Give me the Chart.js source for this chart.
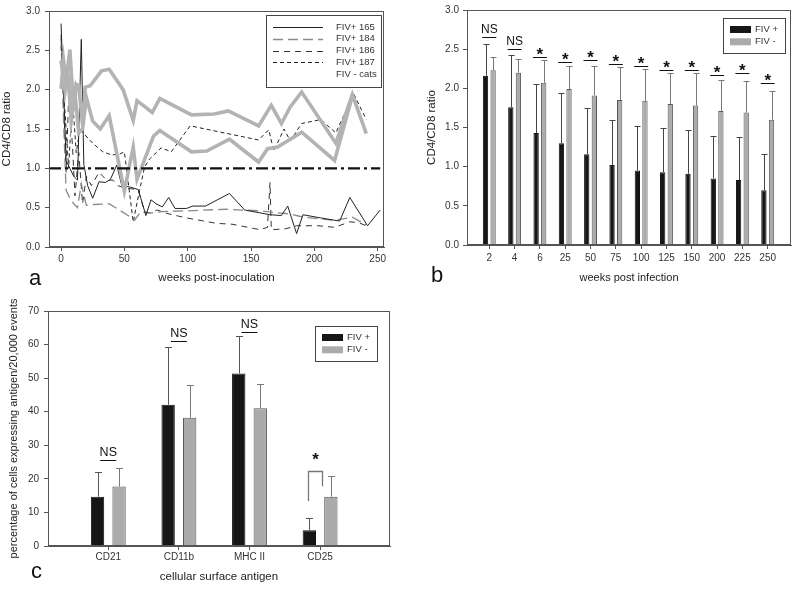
<!DOCTYPE html>
<html><head><meta charset="utf-8">
<script src="https://cdn.jsdelivr.net/npm/chart.js@4/dist/chart.umd.min.js"></script>
<style>
html,body{margin:0;padding:0;background:#fff;}
body{width:800px;height:590px;position:relative;overflow:hidden;}
canvas{position:absolute;}
#ca{left:0;top:0;} #cb{left:400px;top:0;} #cc{left:0;top:295px;}
</style></head><body>
<canvas id="ca" width="400" height="295"></canvas>
<canvas id="cb" width="400" height="295"></canvas>
<canvas id="cc" width="420" height="295"></canvas>
<script>
// ---------- Panel a data (weeks post-inoculation, CD4/CD8 ratio) ----------
const w165 = [0, 2, 4, 7, 10, 13, 16, 18, 21, 25, 30, 35, 39, 44, 48, 55, 61, 67, 71, 75, 80, 85, 90, 99, 104, 114, 133, 145, 165, 174, 179, 186, 191, 205, 216, 220, 228, 242, 252];
const r165 = [2.84, 2.0, 1.1, 1.0, 0.9, 0.85, 2.64, 1.05, 0.78, 0.62, 0.83, 0.82, 0.86, 1.04, 0.78, 0.76, 0.73, 0.40, 0.60, 0.55, 0.51, 0.63, 0.49, 0.49, 0.52, 0.52, 0.68, 0.47, 0.41, 0.40, 0.52, 0.17, 0.41, 0.37, 0.34, 0.33, 0.63, 0.27, 0.47];
const w184 = [0, 2, 4, 7, 10, 13, 16, 20, 26, 38, 46, 55, 58, 63, 68, 80, 100, 130, 157, 167, 181, 191, 216, 230, 241];
const r184 = [2.65, 1.6, 0.72, 0.62, 0.55, 0.50, 0.80, 0.53, 0.54, 0.55, 0.47, 0.38, 0.34, 0.45, 0.43, 0.45, 0.46, 0.48, 0.46, 0.44, 0.42, 0.38, 0.34, 0.38, 0.28];
const w186 = [0, 2, 4, 6, 9, 11, 14, 17, 20, 24, 30, 36, 41, 45, 50, 56, 61, 66, 70, 76, 83, 88, 99, 123, 135, 157, 163, 165, 166, 177, 186, 203, 216, 228, 235, 241];
const r186 = [2.7, 1.9, 0.95, 1.9, 1.3, 0.65, 1.2, 0.55, 0.9, 0.78, 0.95, 0.85, 0.85, 0.78, 0.75, 0.74, 0.72, 0.45, 0.43, 0.47, 0.43, 0.41, 0.37, 0.30, 0.29, 0.22, 0.25, 0.82, 0.22, 0.23, 0.27, 0.27, 0.25, 0.32, 0.31, 0.27];
const w187 = [0, 2, 4, 6, 9, 12, 15, 18, 25, 33, 40, 46, 50, 57, 62, 66, 70, 79, 87, 102, 156, 164, 168, 176, 181, 190, 205, 217, 231, 241];
const r187 = [2.55, 2.0, 1.5, 1.0, 1.9, 1.2, 1.5, 1.44, 1.32, 1.21, 1.17, 1.18, 1.21, 0.32, 0.72, 1.02, 1.12, 1.26, 1.21, 1.54, 1.36, 1.49, 1.22, 1.50, 1.35, 1.57, 1.62, 1.45, 1.95, 1.62];
const wNegA = [0, 2, 4, 7, 10, 12, 14, 17, 19, 23, 32, 38, 49, 57, 60, 72, 78, 103, 121, 132, 156, 166, 174, 181, 190, 217, 230, 241];
const rNegA = [2.01, 2.37, 2.1, 2.51, 1.73, 2.07, 2.05, 1.55, 2.03, 2.05, 2.24, 2.26, 2.0, 1.61, 1.86, 1.71, 1.89, 1.68, 1.69, 1.73, 1.54, 1.80, 1.57, 1.78, 1.97, 1.32, 1.94, 1.44];
const wNegB = [0, 3, 5, 8, 11, 14, 17, 20, 25, 31, 38, 50, 57, 60, 73, 78, 103, 115, 133, 156, 163, 171, 190, 216, 230];
const rNegB = [2.37, 2.0, 2.3, 1.6, 1.95, 1.45, 1.5, 1.9, 1.6, 1.5, 1.67, 0.71, 1.27, 0.86, 1.41, 1.48, 1.21, 1.22, 1.37, 1.08, 1.25, 1.27, 1.46, 1.10, 1.92];
const refWeeks = [-9.5, 252];
const refRatio = [1.0, 1.0];
const aXTicks = [0, 50, 100, 150, 200, 250];

// ---------- Panel b data ----------
const bWeeks = ['2', '4', '6', '25', '50', '75', '100', '125', '150', '200', '225', '250'];
const bPosMean = [2.16, 1.76, 1.43, 1.30, 1.16, 1.02, 0.95, 0.93, 0.91, 0.85, 0.83, 0.70];
const bPosUpper = [2.57, 2.42, 2.06, 1.94, 1.75, 1.60, 1.52, 1.49, 1.47, 1.39, 1.38, 1.16];
const bNegMean = [2.23, 2.20, 2.07, 1.99, 1.91, 1.85, 1.84, 1.80, 1.78, 1.71, 1.69, 1.60];
const bNegUpper = [2.40, 2.38, 2.36, 2.28, 2.29, 2.27, 2.25, 2.20, 2.19, 2.11, 2.09, 1.96];
const bSigY = [2.65, 2.50, 2.40, 2.34, 2.36, 2.31, 2.29, 2.24, 2.24, 2.17, 2.19, 2.07];
const bSigText = ['NS', 'NS', '*', '*', '*', '*', '*', '*', '*', '*', '*', '*'];

// ---------- Panel c data ----------
const cAntigens = ['CD21', 'CD11b', 'MHC II', 'CD25'];
const cPosMean = [14.7, 42.1, 51.4, 4.7];
const cPosUpper = [22.0, 59.4, 62.5, 8.4];
const cNegMean = [17.7, 38.2, 41.0, 14.7];
const cNegUpper = [23.1, 47.9, 48.4, 20.8];
const cSigY = [25.5, 61.1, 63.6, 22.3];
const cSigText = ['NS', 'NS', 'NS', '*'];
const cBracketFoot = [13.4, 17.8];

// ---------- helpers ----------
const FONT = "'Liberation Sans', Arial, Helvetica, sans-serif";
Chart.defaults.font.family = FONT;
Chart.defaults.color = '#333';
Chart.defaults.animation = false;
const AX = '#555';
const BLACK = '#161616', GRAY = '#ababab';

function pts(xs, ys) { return xs.map((x, i) => ({x: x, y: ys[i]})); }

const framePlugin = {
  id: 'frame',
  afterDraw(c) {
    const {ctx, chartArea: a} = c;
    ctx.save(); ctx.strokeStyle = AX; ctx.lineWidth = 1;
    ctx.strokeRect(Math.round(a.left) + 0.5, Math.round(a.top) + 0.5, Math.round(a.right - a.left) - 1, Math.round(a.bottom - a.top) - 1);
    ctx.restore();
  }
};
const letterPlugin = {
  id: 'letter',
  afterDraw(c, args, o) {
    const ctx = c.ctx; ctx.save();
    ctx.font = '22px ' + FONT; ctx.fillStyle = '#111'; ctx.textBaseline = 'alphabetic';
    ctx.fillText(o.text, o.x, o.y); ctx.restore();
  }
};
const legendLines = {
  id: 'legendLines',
  afterDraw(c) {
    const {ctx, chartArea: a} = c;
    const L = Math.round(a.right - 118), T = Math.round(a.top + 4), W = 115, H = 72;
    ctx.save();
    ctx.fillStyle = '#fff'; ctx.fillRect(L, T, W, H);
    ctx.strokeStyle = '#444'; ctx.lineWidth = 1; ctx.strokeRect(L + 0.5, T + 0.5, W, H);
    let row = 0;
    c.data.datasets.forEach(ds => {
      if (!ds.inLegend) return;
      const y = T + 12 + ds.inLegend * 11.8 - 11.8;
      if (ds.legendSample) {
        ctx.strokeStyle = ds.borderColor; ctx.lineWidth = ds.borderWidth;
        ctx.setLineDash(ds.borderDash || []);
        ctx.beginPath(); ctx.moveTo(L + 7, Math.round(y) + 0.5); ctx.lineTo(L + 57, Math.round(y) + 0.5); ctx.stroke();
        ctx.setLineDash([]);
      }
      ctx.fillStyle = '#333'; ctx.font = '9.5px ' + FONT; ctx.textBaseline = 'middle';
      ctx.fillText(ds.label, L + 70, y);
    });
    ctx.restore();
  }
};
const legendBoxes = {
  id: 'legendBoxes',
  afterDraw(c, args, o) {
    const {ctx, chartArea: a} = c;
    const L = Math.round(a.right - o.dx), T = Math.round(a.top + o.dy), W = 62, H = 35;
    ctx.save();
    ctx.fillStyle = '#fff'; ctx.fillRect(L, T, W, H);
    ctx.strokeStyle = '#444'; ctx.lineWidth = 1; ctx.strokeRect(L + 0.5, T + 0.5, W, H);
    c.data.datasets.forEach((ds, i) => {
      const y = T + 8 + i * 12.3;
      ctx.fillStyle = ds.backgroundColor; ctx.fillRect(L + 7, y, 21, 7);
      ctx.fillStyle = '#333'; ctx.font = '9.5px ' + FONT; ctx.textBaseline = 'middle';
      ctx.fillText(ds.label, L + 32, y + 3.5);
    });
    ctx.restore();
  }
};
const errorBars = {
  id: 'errorBars',
  afterDatasetsDraw(c, args, o) {
    const ctx = c.ctx, ys = c.scales.y;
    c.data.datasets.forEach((ds, di) => {
      const meta = c.getDatasetMeta(di);
      meta.data.forEach((bar, j) => {
        const top = Math.round(ys.getPixelForValue(ds.errTop[j])) + 0.5;
        const x = Math.round(bar.x) + 0.5;
        ctx.save(); ctx.strokeStyle = ds.errColor; ctx.lineWidth = 1;
        ctx.beginPath(); ctx.moveTo(x, bar.y); ctx.lineTo(x, top);
        ctx.moveTo(x - o.cap, top); ctx.lineTo(x + o.cap, top); ctx.stroke(); ctx.restore();
      });
    });
  }
};
function drawSig(c, o) {
  const ctx = c.ctx, ys = c.scales.y;
  const m0 = c.getDatasetMeta(0).data, m1 = c.getDatasetMeta(1).data;
  ctx.save();
  o.values.forEach((v, j) => {
    const txt = o.texts[j];
    const ly = Math.round(ys.getPixelForValue(v)) + 0.5;
    if (o.bracket && j === o.values.length - 1) {
      const xl = Math.round(m0[j].x) - 0.5, xr = Math.round(m1[j].x - m1[j].width / 2) - 1.5;
      ctx.strokeStyle = '#777'; ctx.lineWidth = 1.3;
      ctx.beginPath();
      ctx.moveTo(xl, ys.getPixelForValue(o.bracket[0])); ctx.lineTo(xl, ly); ctx.lineTo(xr, ly);
      ctx.lineTo(xr, ys.getPixelForValue(o.bracket[1])); ctx.stroke();
      ctx.fillStyle = '#111'; ctx.font = 'bold 17px ' + FONT; ctx.textAlign = 'center'; ctx.textBaseline = 'alphabetic';
      ctx.fillText(txt, (xl + xr) / 2, ly - 7);
      return;
    }
    const cx = (m0[j].x + m1[j].x) / 2;
    ctx.strokeStyle = '#111'; ctx.lineWidth = 1;
    ctx.beginPath(); ctx.moveTo(cx - o.half, ly); ctx.lineTo(cx + o.half, ly); ctx.stroke();
    ctx.fillStyle = '#111'; ctx.textAlign = 'center'; ctx.textBaseline = 'alphabetic';
    if (txt === '*') { ctx.font = 'bold 17px ' + FONT; ctx.fillText(txt, cx, ly + 2); }
    else { ctx.font = o.nsFont + 'px ' + FONT; ctx.fillText(txt, cx, ly - 5); }
  });
  ctx.restore();
}
const sigPlugin = { id: 'sig', afterDatasetsDraw(c, args, o) { drawSig(c, o); } };

function axisGrid() { return {display: true, drawOnChartArea: false, drawTicks: true, tickLength: 4, color: AX}; }

// ---------- Chart a ----------
new Chart(document.getElementById('ca'), {
  type: 'line',
  data: {
    datasets: [
      {data: pts(refWeeks, refRatio), borderColor: '#111', borderWidth: 2.2, borderDash: [12, 4, 3, 4]},
      {label: 'FIV - cats', inLegend: 5, legendSample: false, data: pts(wNegA, rNegA), borderColor: '#b3b3b3', borderWidth: 3.6},
      {data: pts(wNegB, rNegB), borderColor: '#b3b3b3', borderWidth: 3.6},
      {label: 'FIV+ 165', inLegend: 1, legendSample: true, data: pts(w165, r165), borderColor: '#222', borderWidth: 1},
      {label: 'FIV+ 184', inLegend: 2, legendSample: true, data: pts(w184, r184), borderColor: '#8a8a8a', borderWidth: 1.3, borderDash: [10, 5]},
      {label: 'FIV+ 186', inLegend: 3, legendSample: true, data: pts(w186, r186), borderColor: '#333', borderWidth: 1, borderDash: [6, 5]},
      {label: 'FIV+ 187', inLegend: 4, legendSample: true, data: pts(w187, r187), borderColor: '#222', borderWidth: 1, borderDash: [4, 3]}
    ]
  },
  options: {
    responsive: false,
    layout: {padding: {left: 0, top: 10, right: 16, bottom: 0}},
    elements: {point: {radius: 0}, line: {tension: 0, fill: false}},
    plugins: {legend: {display: false}, tooltip: {enabled: false}, letter: {text: 'a', x: 29, y: 285}},
    scales: {
      x: {type: 'linear', min: -9.5, max: 255,
        afterBuildTicks: s => { s.ticks = aXTicks.map(v => ({value: v})); },
        afterFit: s => { s.height = 48; },
        grid: axisGrid(), border: {display: true, color: AX},
        ticks: {padding: 2, font: {size: 10}, color: '#333', maxRotation: 0},
        title: {display: true, text: 'weeks post-inoculation', font: {size: 11.5}, color: '#222', padding: {top: 0, bottom: 10}}},
      y: {type: 'linear', min: 0, max: 3,
        afterFit: s => { s.width = 49; },
        grid: axisGrid(), border: {display: true, color: AX},
        ticks: {stepSize: 0.5, padding: 5, font: {size: 10}, color: '#333', callback: v => v.toFixed(1)},
        title: {display: true, text: 'CD4/CD8 ratio', font: {size: 11.5}, color: '#222', padding: {top: 0, bottom: 0}}}
    }
  },
  plugins: [framePlugin, legendLines, letterPlugin]
});

// ---------- Chart b ----------
const bIdx = bWeeks.map((w, i) => i + 1);
new Chart(document.getElementById('cb'), {
  type: 'bar',
  data: {
    datasets: [
      {label: 'FIV +', data: pts(bIdx, bPosMean), errTop: bPosUpper, errColor: '#444', backgroundColor: BLACK, borderColor: '#111', borderWidth: 1},
      {label: 'FIV -', data: pts(bIdx, bNegMean), errTop: bNegUpper, errColor: '#777', backgroundColor: GRAY, borderColor: '#5a5a5a', borderWidth: 1}
    ]
  },
  options: {
    responsive: false,
    layout: {padding: {left: 0, top: 10, right: 9, bottom: 0}},
    datasets: {bar: {categoryPercentage: 0.6, barPercentage: 0.7, borderSkipped: 'bottom'}},
    plugins: {legend: {display: false}, tooltip: {enabled: false},
      letter: {text: 'b', x: 31, y: 282},
      errorBars: {cap: 3},
      legendBoxes: {dx: 68, dy: 8},
      sig: {values: bSigY, texts: bSigText, half: 7, nsFont: 12}},
    scales: {
      x: {type: 'linear', min: 0.119, max: 12.92, offset: false,
        afterBuildTicks: s => { s.ticks = bIdx.map(v => ({value: v})); },
        afterFit: s => { s.height = 50; },
        grid: Object.assign(axisGrid(), {offset: false}), border: {display: true, color: AX},
        ticks: {padding: 3, autoSkip: false, maxRotation: 0, font: {size: 10}, color: '#333', callback: v => bWeeks[Math.round(v) - 1]},
        title: {display: true, text: 'weeks post infection', font: {size: 11}, color: '#222', padding: {top: 0, bottom: 10}}},
      y: {type: 'linear', min: 0, max: 3,
        afterFit: s => { s.width = 67; },
        grid: axisGrid(), border: {display: true, color: AX},
        ticks: {stepSize: 0.5, padding: 4, font: {size: 10}, color: '#333', callback: v => v.toFixed(1)},
        title: {display: true, text: 'CD4/CD8 ratio', font: {size: 11.5}, color: '#222', padding: {top: 25, bottom: 0}}}
    }
  },
  plugins: [framePlugin, errorBars, sigPlugin, legendBoxes, letterPlugin]
});

// ---------- Chart c ----------
const cIdx = cAntigens.map((a, i) => i + 1);
new Chart(document.getElementById('cc'), {
  type: 'bar',
  data: {
    datasets: [
      {label: 'FIV +', data: pts(cIdx, cPosMean), errTop: cPosUpper, errColor: '#555', backgroundColor: BLACK, borderColor: '#111', borderWidth: 1},
      {label: 'FIV -', data: pts(cIdx, cNegMean), errTop: cNegUpper, errColor: '#777', backgroundColor: GRAY, borderColor: '#5a5a5a', borderWidth: 1}
    ]
  },
  options: {
    responsive: false,
    layout: {padding: {left: 0, top: 16, right: 30, bottom: 0}},
    datasets: {bar: {categoryPercentage: 0.61, barPercentage: 0.62, borderSkipped: 'bottom'}},
    plugins: {legend: {display: false}, tooltip: {enabled: false},
      letter: {text: 'c', x: 31, y: 283},
      errorBars: {cap: 3.5},
      legendBoxes: {dx: 75, dy: 15},
      sig: {values: cSigY, texts: cSigText, half: 8, nsFont: 12.5, bracket: cBracketFoot}},
    scales: {
      x: {type: 'linear', min: 0.146, max: 4.99, offset: false,
        afterBuildTicks: s => { s.ticks = cIdx.map(v => ({value: v})); },
        afterFit: s => { s.height = 44; },
        grid: Object.assign(axisGrid(), {offset: false}), border: {display: true, color: AX},
        ticks: {padding: 1, autoSkip: false, maxRotation: 0, font: {size: 10}, color: '#333', callback: v => cAntigens[Math.round(v) - 1]},
        title: {display: true, text: 'cellular surface antigen', font: {size: 11.5}, color: '#222', padding: {top: 0, bottom: 6}}},
      y: {type: 'linear', min: 0, max: 70,
        afterFit: s => { s.width = 48; },
        grid: axisGrid(), border: {display: true, color: AX},
        ticks: {stepSize: 10, padding: 5, font: {size: 10}, color: '#333'},
        title: {display: true, text: 'percentage of cells expressing antigen/20,000 events', font: {size: 11}, color: '#222', padding: {top: 7, bottom: 0}}}
    }
  },
  plugins: [framePlugin, errorBars, sigPlugin, legendBoxes, letterPlugin]
});
</script>
</body></html>
